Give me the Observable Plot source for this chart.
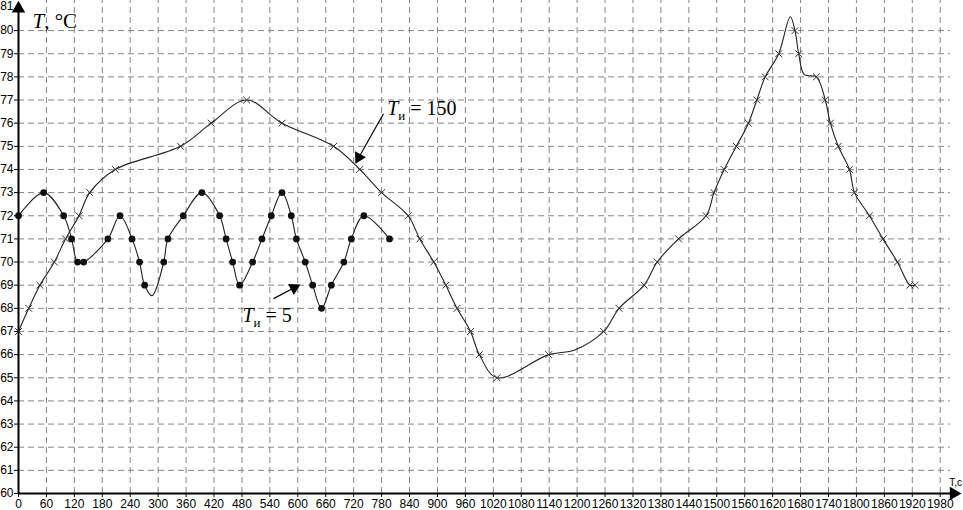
<!DOCTYPE html>
<html><head><meta charset="utf-8">
<script src="https://cdn.jsdelivr.net/npm/d3@7"></script>
<script src="https://cdn.jsdelivr.net/npm/@observablehq/plot@0.6"></script>
<style>
html,body{margin:0;padding:0;background:#fff;}
#chart{width:963px;height:510px;overflow:hidden;}
</style></head><body><div id="chart"></div>
<script>
// Tick labels
const xTicks = [0,60,120,180,240,300,360,420,480,540,600,660,720,780,840,900,960,1020,1080,1140,1200,1260,1320,1380,1440,1500,1560,1620,1680,1740,1800,1860,1920,1980];
const yTicks = [60,61,62,63,64,65,66,67,68,69,70,71,72,73,74,75,76,77,78,79,80];
const yGrid = [61,62,63,64,65,66,67,68,69,70,71,72,73,74,75,76,77,78,79,80];

// Series T_и = 150 (crosses)
const t150 = [0,22,46,77,101,130,153,208,348,414,490,566,677,733,780,837,862,892,918,942,971,990,1028,1139,1257,1290,1344,1372,1418,1477,1494,1516,1542,1568,1586,1604,1633,1668,1676,1714,1733,1744,1761,1785,1796,1828,1857,1888,1915,1926];
const T150 = [67,68,69,70,71,72,73,74,75,76,77,76,75,74,73,72,71,70,69,68,67,66,65,66,67,68,69,70,71,72,73,74,75,76,77,78,79,80,79,78,77,76,75,74,73,72,71,70,69,69];
// curve-only points (no marker) of the same series
const t150Extra = [1195,1658,1688];
const T150Extra = [66.2,80.6,78.1];

// Series T_и = 5 (dots)
const t5 = [0,54,97,114,127,140,192,218,244,260,271,312,321,354,394,432,446,460,475,503,523,543,566,586,597,616,632,651,672,699,715,742,797];
const T5 = [72,73,72,71,70,70,71,72,71,70,69,70,71,72,73,72,71,70,69,70,71,72,73,72,71,70,69,68,69,70,71,72,71];
const t5Extra = [287];
const T5Extra = [68.55];

// Annotations
const annText = ["Tи = 150","Tи = 5"];
const annX = [792,481];
const annY = [76.63,67.69];
const arrX1 = [784,548], arrY1 = [76.41,68.42];
const arrX2 = [731,592], arrY2 = [74.52,68.89];
const headRotate = [209,62];

const axisTitleY = ["T, °C"];
const axisTitleX = ["T,c"];

const merge = (ta, va, tb, vb) => ta.map((t,i)=>({t, T: va[i]})).concat(tb.map((t,i)=>({t, T: vb[i]}))).sort((a,b)=>a.t-b.t);
const line150 = merge(t150, T150, t150Extra, T150Extra);
const line5 = merge(t5, T5, t5Extra, T5Extra);
const pts150 = t150.map((t,i)=>({t, T: T150[i]}));
const pts5 = t5.map((t,i)=>({t, T: T5[i]}));
const ann = annText.map((s,i)=>({s, x: annX[i], y: annY[i]}));
const arrows = arrX1.map((x,i)=>({x1: x, y1: arrY1[i], x2: arrX2[i], y2: arrY2[i], r: headRotate[i]}));

const gridStroke = "#858585";
const plot = Plot.plot({
  width: 963, height: 510,
  marginLeft: 18, marginRight: 0, marginTop: 0, marginBottom: 17,
  style: {fontFamily: "'Liberation Sans', Arial, sans-serif", fontSize: "12px", color: "#000", background: "#fff", overflow: "hidden"},
  x: {domain: [0, 2030], ticks: xTicks, tickFormat: d => String(d), tickSize: 4, tickPadding: 2, label: null},
  y: {domain: [60, 81.3], ticks: yTicks, tickFormat: d => String(d), tickSize: 4, tickPadding: 1, label: null},
  marks: [
    Plot.ruleX(xTicks.filter(d => d > 0), {y1: 60, y2: 81.3, stroke: gridStroke, strokeDasharray: "6,4", strokeWidth: 1}),
    Plot.ruleY(yGrid, {x1: 0, x2: 2002, stroke: gridStroke, strokeDasharray: "6,4", strokeWidth: 1}),
    Plot.ruleY([60], {x1: 0, x2: 2010, stroke: "#000", strokeWidth: 2}),
    Plot.ruleX([0], {y1: 60, y2: 80.9, stroke: "#000", strokeWidth: 2}),
    Plot.dot([{x: 2009, y: 60}], {x: "x", y: "y", symbol: "triangle", r: 5, fill: "#000", stroke: "none", rotate: 90}),
    Plot.dot([{x: 0, y: 80.95}], {x: "x", y: "y", symbol: "triangle", r: 5, fill: "#000", stroke: "none"}),
    Plot.line(line150, {x: "t", y: "T", curve: "catmull-rom", stroke: "#222", strokeWidth: 1.1}),
    Plot.line(line5, {x: "t", y: "T", curve: "catmull-rom", stroke: "#222", strokeWidth: 1.1}),
    Plot.dot(pts150, {x: "t", y: "T", symbol: "times", r: 3.2, stroke: "#333", strokeWidth: 1}),
    Plot.dot(pts5, {x: "t", y: "T", r: 3.4, fill: "#111", stroke: "none"}),
    Plot.link(arrows, {x1: "x1", y1: "y1", x2: "x2", y2: "y2", stroke: "#000", strokeWidth: 1.2}),
    Plot.dot(arrows, {x: "x2", y: "y2", symbol: "triangle", r: 4.6, fill: "#000", stroke: "none", rotate: "r"}),
    Plot.text(ann, {x: "x", y: "y", text: "s", textAnchor: "start", fontSize: 20, fontFamily: "'Liberation Serif', 'Times New Roman', serif", fill: "#000"}),
    Plot.text(axisTitleY, {x: 30, y: 80.39, text: d => d, textAnchor: "start", fontSize: 21, fontFamily: "'Liberation Serif', 'Times New Roman', serif", fill: "#000"}),
    Plot.text(axisTitleX, {x: 2027, y: 60.45, text: d => d, textAnchor: "end", fontSize: 10, fill: "#000"}),
    Plot.text(["81"], {x: 0, y: 81, text: d => d, textAnchor: "end", dx: -5, dy: -1, fontSize: 12, fill: "#000"})
  ]
});
document.getElementById("chart").appendChild(plot);

const NS = "http://www.w3.org/2000/svg";
function span(txt, attrs) {
  const s = document.createElementNS(NS, "tspan");
  for (const k in attrs) s.setAttribute(k, attrs[k]);
  s.textContent = txt;
  return s;
}
plot.querySelectorAll("text").forEach(el => {
  const s = el.textContent;
  if (s.startsWith("Tи")) {
    el.textContent = "";
    el.appendChild(span("T", {"font-style": "italic"}));
    el.appendChild(span("и", {"font-size": "13", "dy": "5"}));
    el.appendChild(span(s.slice(2), {"dy": "-5"}));
  } else if (s === "T, °C") {
    el.textContent = "";
    el.appendChild(span("T", {"font-style": "italic"}));
    el.appendChild(span(", °C", {}));
  }
});
</script>
</body></html>
